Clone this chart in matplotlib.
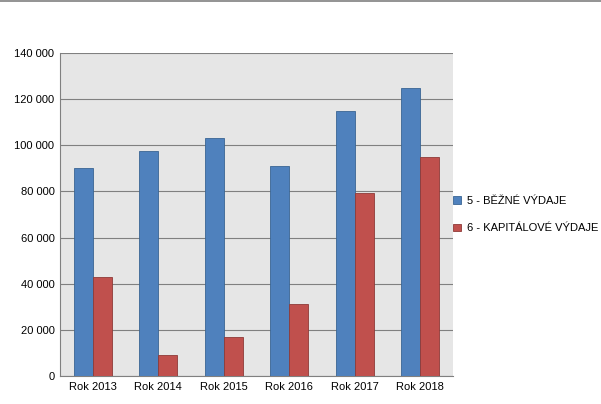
import matplotlib
matplotlib.use("Agg")
import matplotlib.pyplot as plt
import numpy as np

categories = ["Rok 2013", "Rok 2014", "Rok 2015", "Rok 2016", "Rok 2017", "Rok 2018"]
bezne = [90000, 97500, 103000, 91000, 115000, 125000]
kapitalove = [43000, 9000, 17000, 31000, 79500, 95000]
series_names = ["5 - BĚŽNÉ VÝDAJE", "6 - KAPITÁLOVÉ VÝDAJE"]

fig = plt.figure(figsize=(6.01, 4.04), dpi=100)
ax = fig.add_axes([60/601, 1-376/404, 393/601, 323/404])
ax.set_facecolor("#e6e6e6")
x = np.arange(len(categories))
w = 0.29
ax.bar(x - w/2, bezne, w, color="#4f81bd", edgecolor="#3a6593", linewidth=0.6, label=series_names[0], zorder=3)
ax.bar(x + w/2, kapitalove, w, color="#c0504d", edgecolor="#8e3a38", linewidth=0.6, label=series_names[1], zorder=3)
ax.set_xlim(-0.5, len(categories) - 0.5)
ax.set_ylim(0, 140000)
yt = np.arange(0, 140001, 20000)
ax.set_yticks(yt)
ax.set_yticklabels([f"{v:,}".replace(",", " ") for v in yt], fontsize=8, fontfamily="Liberation Sans")
ax.set_xticks(x)
ax.set_xticklabels(categories, fontsize=8, fontfamily="Liberation Sans")
ax.grid(axis="y", color="#808080", linewidth=0.8, zorder=0)
for s in ["top", "right"]:
    ax.spines[s].set_visible(False)
ax.spines["left"].set_color("#808080")
ax.spines["bottom"].set_color("#808080")
ax.tick_params(length=0, pad=4)
ax.legend(loc="center left", bbox_to_anchor=(0.995, 0.5), borderaxespad=0, borderpad=0.2,
          frameon=False, prop={"family": "Liberation Sans", "size": 8},
          handlelength=0.7, handleheight=0.7, handletextpad=0.5, labelspacing=1.6)
fig.add_artist(plt.Line2D([0, 1], [1 - 1/404, 1 - 1/404], color="#808080", linewidth=1.2))
fig.savefig("out.png", dpi=100)
